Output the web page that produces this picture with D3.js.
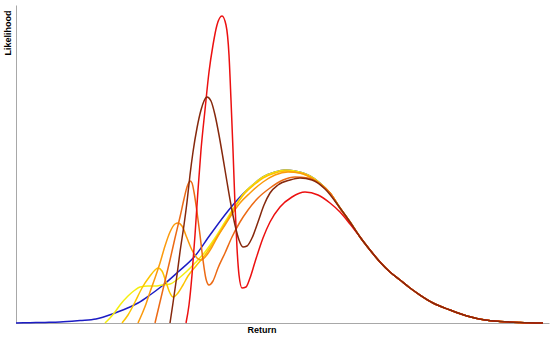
<!DOCTYPE html>
<html>
<head>
<meta charset="utf-8">
<script src="https://cdn.jsdelivr.net/npm/d3@7"></script>
<style>
  html, body { margin: 0; padding: 0; background: #fff; }
  svg { display: block; }
  .label { font-family: "Liberation Sans", Arial, sans-serif; font-size: 9px; font-weight: bold; fill: #000; }
</style>
</head>
<body>
<div id="chart"></div>
<script>
// Return (x) / likelihood (y) pairs, arbitrary units
const blue = [[16,0],[30,0.3],[45,0.6],[60,1],[80,2.5],[96,4],[115,10],[130,16],[138,20],[150,28],[162,37],[178,51],[195,67],[210,88],[228,112],[240,126],[247,133]];
const crest = [[255,140],[263,146],[275,151],[285,153],[295,152],[303,150],[310,147],[320,140],[330,130]];
const tail = [[340,115],[350,101],[360,86],[370,73],[380,61],[390,51],[400,43],[410,35],[420,28],[433,20],[450,13],[467,7],[485,3],[500,1.5],[520,0.5],[543,0]];

const yellow = [[105,0],[110,5],[115,11],[120,18],[128,27],[135,33],[140,36],[148,37],[155,37],[162,38],[170,39],[178,44],[186,51],[195,60],[205,71],[215,85],[225,101],[235,117],[245,131]];
const gold = [[122,0],[128,8],[135,21],[142,35],[150,47],[155,53],[158,55],[162,52],[166,41],[170,30],[173,26],[178,30],[183,38],[188,47],[196,57],[205,68],[215,83],[225,99],[235,116],[245,130],[255,139],[263,145],[275,150],[285,152],[295,151],[303,149],[310,146],[320,139],[330,130]];
const orange = [[138,0],[142,9],[146,19],[150,31],[155,45],[160,60],[165,77],[170,91],[175,99],[178,100],[182,97],[187,85],[192,73],[197,65],[201,63],[206,67],[212,76],[218,87],[225,98],[232,109],[240,120],[250,130],[263,141],[275,148],[288,151],[300,150],[315,143],[330,130]];
const darkOrange = [[155,0],[160,21],[165,42],[170,63],[175,85],[180,106],[184,124],[187,136],[190,142],[192,140],[194,131],[197,111],[200,88],[203,63],[206,44],[209,38],[213,42],[218,55],[225,70],[232,86],[240,101],[248,113],[258,125],[270,135],[283,143],[295,146],[308,145],[320,139],[330,130]];
const brown = [[170,0],[173,20],[177,48],[180,71],[184,98],[187,121],[190,148],[193,171],[197,195],[201,213],[204,222],[207,226],[211,222],[215,208],[219,188],[223,165],[227,141],[231,118],[235,98],[239,83],[243,76],[247,77],[252,85],[258,101],[264,118],[270,130],[278,138],[290,143],[300,145],[312,143],[325,134]];
const red = [[186,0],[189,18],[192,48],[195,88],[198,133],[201,173],[205,213],[209,251],[213,278],[217,298],[222,307],[226,298],[229,268],[231,223],[233,173],[235,118],[237,75],[239,48],[242,35],[246,36],[250,45],[255,61],[263,85],[270,101],[280,116],[292,126],[305,131],[318,128],[330,120],[340,111],[350,99]];

const series = [
  { name: 'blue', color: '#1c1cc4', values: blue.concat(crest, tail) },
  { name: 'yellow', color: '#f4ee10', values: yellow.concat(crest, tail) },
  { name: 'gold', color: '#fcc400', values: gold.concat(tail) },
  { name: 'orange', color: '#fb9a0c', values: orange.concat(tail) },
  { name: 'darkOrange', color: '#ec6a14', values: darkOrange.concat(tail) },
  { name: 'red', color: '#ec1010', values: red.concat(tail.slice(2)) },
  { name: 'brown', color: '#86280c', values: brown.concat(tail) },
];

const width = 559;
const height = 337;
const margin = { top: 5, right: 10, bottom: 14, left: 16 };

const svg = d3.select('#chart')
  .append('svg')
  .attr('width', width)
  .attr('height', height);

const x = d3.scaleLinear()
  .domain([16, 549])
  .range([margin.left, width - margin.right]);

const y = d3.scaleLinear()
  .domain([0, 318])
  .range([height - margin.bottom, margin.top]);

// axes: plain lines, no ticks
svg.append('g')
  .attr('transform', `translate(0,${height - margin.bottom})`)
  .call(d3.axisBottom(x).tickValues([]).tickSizeOuter(0))
  .select('.domain').attr('stroke', '#a8a8a8');

svg.append('g')
  .attr('transform', `translate(${margin.left},0)`)
  .call(d3.axisLeft(y).tickValues([]).tickSizeOuter(0))
  .select('.domain').attr('stroke', '#a8a8a8');

const line = d3.line()
  .x((d) => x(d[0]))
  .y((d) => y(d[1]))
  .curve(d3.curveMonotoneX);

svg.selectAll('.curve')
  .data(series)
  .enter()
  .append('path')
  .attr('class', 'curve')
  .attr('fill', 'none')
  .attr('stroke', (d) => d.color)
  .attr('stroke-width', 1.5)
  .attr('d', (d) => line(d.values));

svg.append('text')
  .attr('class', 'label')
  .attr('text-anchor', 'middle')
  .attr('x', 262)
  .attr('y', 333)
  .text('Return');

svg.append('text')
  .attr('class', 'label')
  .attr('text-anchor', 'middle')
  .attr('transform', 'translate(11,33) rotate(-90)')
  .text('Likelihood');
</script>
</body>
</html>
